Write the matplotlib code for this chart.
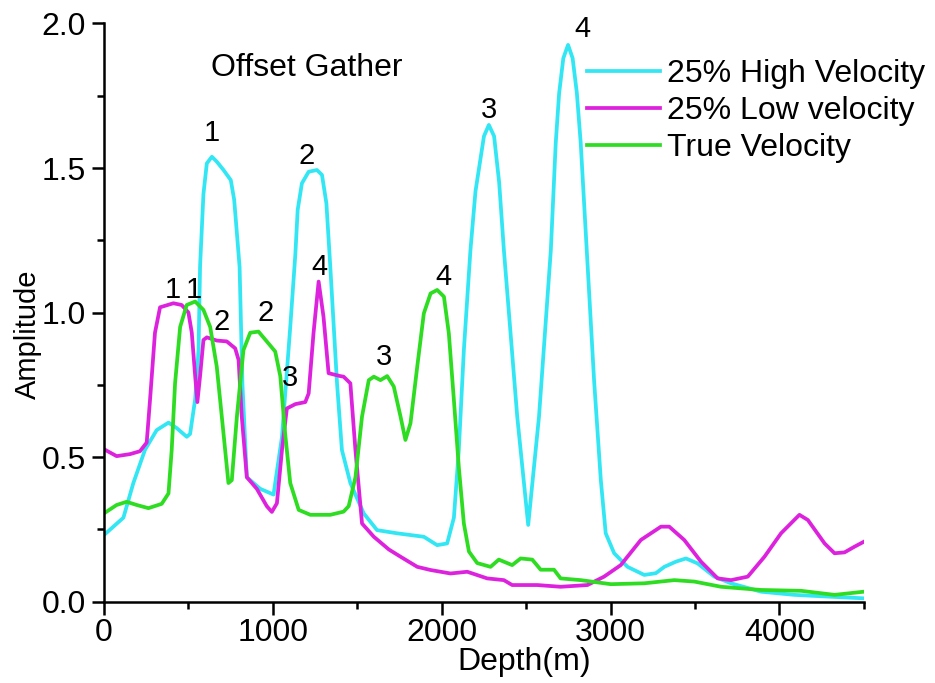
import matplotlib
matplotlib.use("Agg")
import matplotlib.pyplot as plt
from matplotlib.ticker import MultipleLocator, FormatStrFormatter

# ── Data ──────────────────────────────────────────────────────────────────────
high_depth = [0, 115, 174, 243, 312, 382, 431, 490, 510, 540, 560, 569, 589, 609,
              639, 668, 708, 751, 771, 787, 803, 820, 846, 925, 1004, 1054, 1103,
              1133, 1147, 1172, 1212, 1261, 1291, 1317, 1340, 1380, 1409, 1459,
              1538, 1617, 1736, 1894, 1973, 2032, 2072, 2101, 2131, 2170, 2200,
              2250, 2279, 2310, 2340, 2368, 2447, 2512, 2576, 2646, 2675, 2695,
              2720, 2748, 2775, 2800, 2823, 2902, 2942, 2971, 3021, 3100, 3199,
              3268, 3318, 3387, 3446, 3515, 3614, 3713, 3891, 4089, 4287, 4500]
high_amp = [0.23, 0.29, 0.41, 0.525, 0.593, 0.619, 0.60, 0.57, 0.58, 0.70, 0.87,
            1.16, 1.41, 1.516, 1.539, 1.522, 1.493, 1.458, 1.39, 1.275, 1.158,
            0.75, 0.43, 0.39, 0.37, 0.57, 0.95, 1.2, 1.355, 1.447, 1.487, 1.493,
            1.476, 1.378, 1.16, 0.755, 0.524, 0.41, 0.305, 0.247, 0.236, 0.224,
            0.195, 0.201, 0.29, 0.524, 0.87, 1.216, 1.42, 1.61, 1.649, 1.61, 1.45,
            1.216, 0.64, 0.265, 0.64, 1.216, 1.586, 1.758, 1.88, 1.926, 1.88, 1.76,
            1.586, 0.766, 0.42, 0.236, 0.167, 0.12, 0.092, 0.098, 0.12, 0.138,
            0.149, 0.132, 0.086, 0.063, 0.034, 0.023, 0.017, 0.011]

low_depth = [0, 75, 154, 213, 253, 273, 302, 332, 411, 460, 500, 520, 540, 553,
             569, 589, 609, 668, 727, 777, 797, 816, 846, 905, 964, 994, 1024,
             1054, 1083, 1133, 1192, 1212, 1241, 1271, 1300, 1330, 1399, 1419,
             1459, 1489, 1528, 1598, 1687, 1756, 1855, 1934, 2052, 2151, 2269,
             2368, 2417, 2566, 2704, 2863, 2961, 3060, 3179, 3298, 3347, 3436,
             3535, 3634, 3713, 3812, 3911, 4009, 4118, 4168, 4267, 4326, 4385,
             4445, 4500]
low_amp = [0.527, 0.503, 0.51, 0.52, 0.55, 0.70, 0.93, 1.018, 1.032, 1.026, 1.0,
           0.93, 0.78, 0.69, 0.78, 0.905, 0.914, 0.903, 0.90, 0.876, 0.836, 0.64,
           0.43, 0.39, 0.33, 0.31, 0.34, 0.524, 0.668, 0.683, 0.69, 0.72, 0.93,
           1.107, 0.985, 0.79, 0.78, 0.778, 0.755, 0.524, 0.27, 0.224, 0.18,
           0.155, 0.12, 0.109, 0.097, 0.103, 0.08, 0.074, 0.057, 0.057, 0.051,
           0.057, 0.086, 0.126, 0.213, 0.259, 0.259, 0.213, 0.138, 0.08, 0.074,
           0.086, 0.155, 0.236, 0.30, 0.282, 0.201, 0.167, 0.17, 0.19, 0.207]

true_depth = [0, 75, 134, 194, 263, 342, 382, 401, 421, 451, 490, 540, 589, 629,
              668, 708, 737, 757, 787, 826, 866, 915, 964, 1014, 1044, 1073, 1103,
              1153, 1222, 1301, 1340, 1419, 1449, 1489, 1528, 1568, 1598, 1637,
              1677, 1716, 1756, 1785, 1815, 1855, 1894, 1934, 1973, 2013, 2042,
              2072, 2101, 2131, 2161, 2210, 2289, 2338, 2417, 2467, 2536, 2586,
              2665, 2704, 2823, 3001, 3199, 3377, 3496, 3654, 3891, 4128, 4326,
              4500]
true_amp = [0.305, 0.334, 0.345, 0.334, 0.323, 0.338, 0.374, 0.524, 0.755, 0.95,
            1.026, 1.038, 1.009, 0.95, 0.812, 0.58, 0.41, 0.42, 0.64, 0.87, 0.93,
            0.934, 0.9, 0.865, 0.78, 0.58, 0.41, 0.317, 0.30, 0.30, 0.30, 0.311,
            0.33, 0.43, 0.64, 0.766, 0.778, 0.766, 0.78, 0.744, 0.64, 0.559, 0.617,
            0.813, 0.997, 1.066, 1.078, 1.055, 0.928, 0.697, 0.466, 0.27, 0.173,
            0.133, 0.12, 0.145, 0.126, 0.149, 0.145, 0.11, 0.11, 0.08, 0.074, 0.06,
            0.063, 0.074, 0.069, 0.051, 0.04, 0.037, 0.023, 0.034]

# peak numbers: (text, depth, amplitude)
peak_labels = [
    ("1", 641, 1.62), ("2", 1198, 1.54), ("3", 2278, 1.70), ("4", 2835, 1.98),
    ("1", 407, 1.078), ("1", 530, 1.078), ("2", 698, 0.968), ("2", 959, 0.997),
    ("3", 1103, 0.773), ("4", 1277, 1.158), ("3", 1657, 0.847), ("4", 2013, 1.124),
]

SERIES = [
    (high_depth, high_amp, "25% High Velocity", "#33E6F4"),
    (low_depth, low_amp, "25% Low velocity", "#DD22DD"),
    (true_depth, true_amp, "True Velocity", "#2EDD22"),
]

plt.rcParams["font.family"] = ["Liberation Sans", "DejaVu Sans"]

fig = plt.figure(figsize=(9.35, 6.83), dpi=100)
ax = fig.add_axes([0.1112, 0.1193, 0.8128, 0.8463])

for xs, ys, label, color in SERIES:
    ax.plot(xs, ys, color=color, lw=2.7, label=label)

for txt, x, y in peak_labels:
    ax.text(x, y, txt, ha="center", va="center", fontsize=21)

ax.text(1198, 1.846, "Offset Gather", ha="center", va="center", fontsize=23)

ax.set_xlim(0, 4500)
ax.set_ylim(0, 2.0)
ax.xaxis.set_major_locator(MultipleLocator(1000))
ax.xaxis.set_minor_locator(MultipleLocator(500))
ax.yaxis.set_major_locator(MultipleLocator(0.5))
ax.yaxis.set_minor_locator(MultipleLocator(0.25))
ax.yaxis.set_major_formatter(FormatStrFormatter("%.1f"))

for side in ["top", "right"]:
    ax.spines[side].set_visible(False)
for side in ["left", "bottom"]:
    ax.spines[side].set_linewidth(1.8)

ax.tick_params(which="major", direction="out", length=9, width=1.8)
ax.tick_params(which="minor", direction="out", length=5, width=1.8)
ax.tick_params(axis="y", labelsize=23, pad=4)
ax.tick_params(axis="x", labelsize=23, pad=3)

ax.set_xlabel("Depth(m)", fontsize=23, va="top")
ax.xaxis.set_label_coords(0.553, -0.078)
ax.set_ylabel("Amplitude", fontsize=21)
ax.yaxis.set_label_coords(-0.081, 0.463)

ax.legend(loc="upper left", bbox_to_anchor=((587 - 104) / 760, 0.938),
          frameon=False, fontsize=23, handlelength=2.3, handletextpad=0.2,
          labelspacing=0.22, borderaxespad=0, borderpad=0)

fig.savefig("out.png", dpi=100)
